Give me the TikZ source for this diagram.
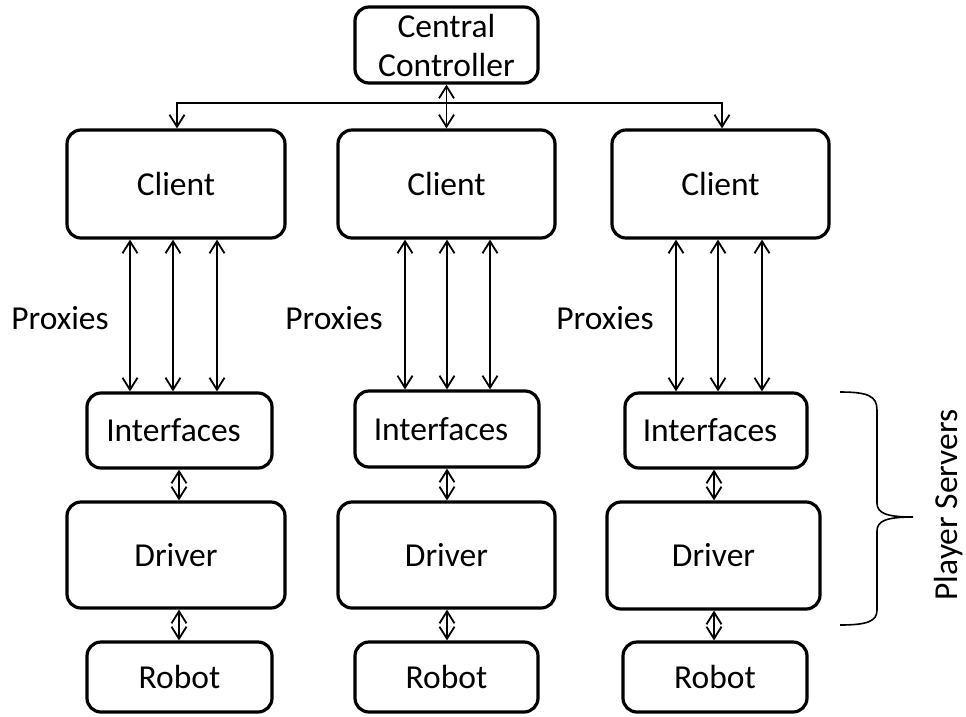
\documentclass[tikz,border=0pt]{standalone}
\usepackage{fontspec}
\setmainfont{Carlito}
\usetikzlibrary{arrows.meta}

\tikzset{
  blk/.style={draw, line width=3.2pt, rounded corners=14pt, inner sep=0pt,
              font=\fontsize{33.5pt}{40pt}\selectfont},
  link/.style={line width=1.8pt, {Straight Barb[length=12pt,width=15pt]}-{Straight Barb[length=12pt,width=15pt]}},
  lbl/.style={font=\fontsize{33.5pt}{40pt}\selectfont, inner sep=0pt},
  bracel/.style={line width=1.6pt},
}

\begin{document}
\begin{tikzpicture}[x=1pt,y=-1pt]
\useasboundingbox (0,0) rectangle (966,716);

% central controller
\node[blk, minimum width=183pt, minimum height=76pt, align=center,
      font=\fontsize{33.5pt}{39pt}\selectfont] (cc) at (446.5,45) {Central\\Controller};

% clients
\node[blk, minimum width=218pt, minimum height=108pt] (cl1) at (176,184) {Client};
\node[blk, minimum width=217pt, minimum height=108pt] (cl2) at (446.5,184) {Client};
\node[blk, minimum width=217pt, minimum height=108pt] (cl3) at (720.5,184) {Client};

% interfaces
\node[blk, minimum width=185pt, minimum height=75pt] (if1) at (179.5,430.5) {Interfaces\kern12pt};
\node[blk, minimum width=184pt, minimum height=76pt] (if2) at (447,429) {Interfaces\kern12pt};
\node[blk, minimum width=182pt, minimum height=75pt] (if3) at (716,430.5) {Interfaces\kern12pt};

% drivers
\node[blk, minimum width=218pt, minimum height=106pt] (dr1) at (176,555) {Driver};
\node[blk, minimum width=217pt, minimum height=106pt] (dr2) at (446.5,555) {Driver};
\node[blk, minimum width=213pt, minimum height=107pt] (dr3) at (713.5,555.5) {Driver};

% robots
\node[blk, minimum width=185pt, minimum height=70pt] (rb1) at (179.5,677) {Robot};
\node[blk, minimum width=183pt, minimum height=70pt] (rb2) at (446.5,677) {Robot};
\node[blk, minimum width=184pt, minimum height=70pt] (rb3) at (715,677) {Robot};

% controller to clients
\coordinate (hl) at (177,103);
\coordinate (hr) at (722,103);
\draw[link] (cl1.north -| hl) -- (hl) -- (hr) -- (cl3.north -| hr);
\draw[link] (cc.south -| cl2.north) -- (cl2.north);

% proxy links
\foreach \c/\xa/\xb/\xc in {1/130/173/217, 2/405/447/490, 3/676/718/762}{
  \foreach \xx in {\xa,\xb,\xc}{
    \coordinate (px) at (\xx,0);
    \draw[link] (cl\c.south -| px) -- (if\c.north -| px);
  }
}

% proxy labels
\node[lbl] (pl1) at (60,318) {Proxies};
\node[lbl] (pl2) at (334,318) {Proxies};
\node[lbl] (pl3) at (605,318) {Proxies};

% interface - driver - robot links
\foreach \c/\xx in {1/179, 2/447, 3/714}{
  \coordinate (dx) at (\xx,0);
  \draw[link] (if\c.south -| dx) -- (dr\c.north -| dx);
  \draw[link] (dr\c.south -| dx) -- (rb\c.north -| dx);
}

% brace around the server part
\draw[bracel] (840,392) .. controls (868,392) and (877,396) .. (877,410)
  -- (877,503) .. controls (877,513) and (886,517) .. (913,517)
  .. controls (886,517) and (877,521) .. (877,531)
  -- (877,610) .. controls (877,621) and (868,625) .. (840,625);

\node[lbl, rotate=90] (ps) at (949,505) {Player Servers};
\end{tikzpicture}
\end{document}
